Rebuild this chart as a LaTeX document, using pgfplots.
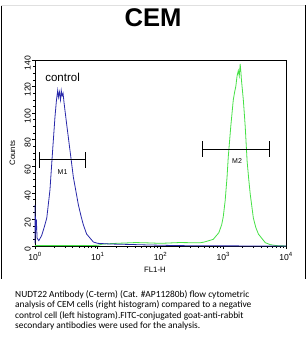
\documentclass[border=0pt]{standalone}
\usepackage{pgfplots}
\pgfplotsset{compat=1.18}
\usepackage{fontspec}
\setmainfont{Liberation Sans}
\newfontfamily\capfont{Carlito}
\definecolor{cblue}{RGB}{40,40,170}
\definecolor{cgreen}{RGB}{70,225,70}
\begin{document}
\begin{tikzpicture}[x=1pt,y=1pt]
\useasboundingbox (0,0) rectangle (306,340);
\fill[white] (0,0) rectangle (306,340);
\draw[black,line width=1pt] (1,61) -- (1,335);
\draw[black,line width=1pt] (305,61) -- (305,335);
\draw[black!12,line width=0.6pt] (1,335) -- (305,335);
\node[font=\bfseries\fontsize{25.6}{28}\selectfont] at (153,322.5) {CEM};
\begin{axis}[
  at={(35pt,94pt)}, anchor=south west,
  scale only axis, width=251pt, height=186pt,
  xmode=log, xmin=1, xmax=10000, ymin=0, ymax=140,
  xtick={1,10,100,1000,10000},
  xticklabels={10\textsuperscript{0},10\textsuperscript{1},10\textsuperscript{2},10\textsuperscript{3},10\textsuperscript{4}},
  ytick={0,20,40,60,80,100,120,140},
  minor y tick num=3,
  tick align=outside, tick pos=left,
  major tick length=3pt, minor tick length=2pt,
  axis line style={line width=0.9pt},
  every tick/.style={black,line width=0.6pt},
  ticklabel style={font=\fontsize{8.6}{9}\selectfont},
  /pgf/number format/assume math mode=true,
  yticklabel style={rotate=90,anchor=south,inner sep=1pt,xshift=-3pt},
  xticklabel style={inner sep=1pt,yshift=-2pt},
  clip=false,
]
\addplot[cgreen,line width=0.8pt] coordinates {
(1,0.3)(5,0.3)(10,0.5)(12,1.5)(20,2)(40,2.6)(68,2.3)(100,2)(200,2.6)(427,2.4)(500,3)(692,5)(850,10)(944,16)(1000,22)(1072,34)(1150,52)(1202,67)(1318,90)(1445,110)(1520,116)(1585,120)(1660,128)(1738,132)(1800,128)(1862,137)(1910,131)(1950,125)(2089,110)(2239,90)(2399,64)(2550,50)(2692,39)(3020,21)(3300,14)(3631,9)(4677,2.5)(5623,1)(7000,0.3)(10000,0)
};
\addplot[cblue,line width=0.8pt] coordinates {
(1.00,2)(1.00,31)(1.01,8)(1.02,22)(1.03,12)(1.05,20)(1.08,6)(1.15,4)(1.28,8)(1.40,14)(1.54,21)(1.73,42)(1.91,72)(2.08,97)(2.20,110)(2.30,117)(2.36,112)(2.45,116)(2.55,110)(2.62,117)(2.70,113)(2.80,115)(2.90,108)(3.19,92)(3.61,72)(4.08,52)(4.91,31)(5.20,26)(5.45,22)(5.89,16)(6.65,9)(8.51,3)(10,2)(15.7,1.5)(30,1.2)(60,0.8)(150,0.4)(300,0.2)(1000,0.1)(10000,0)
};
% markers
\addplot[black,line width=0.8pt] coordinates {(1.17,65)(6.27,65)};
\addplot[black,line width=0.8pt] coordinates {(1.17,59)(1.17,71)};
\addplot[black,line width=0.8pt] coordinates {(6.27,59)(6.27,71)};
\addplot[black,line width=0.8pt] coordinates {(464,73)(5370,73)};
\addplot[black,line width=0.8pt] coordinates {(464,67)(464,79)};
\addplot[black,line width=0.8pt] coordinates {(5370,67)(5370,79)};
\node[font=\fontsize{7}{8}\selectfont] at (axis cs:2.75,56) {M1};
\node[font=\fontsize{7}{8}\selectfont] at (axis cs:1660,64) {M2};
\node[font=\fontsize{11.5}{13}\selectfont,anchor=west,inner sep=0pt] at (axis cs:1.45,127) {control};
\node[font=\fontsize{7.8}{9}\selectfont] at (axis description cs:0.478,-0.13) {FL1-H};
\node[font=\fontsize{7.8}{9}\selectfont,rotate=90] at (axis description cs:-0.09,0.50) {Counts};
\end{axis}
\begin{scope}[font=\capfont\fontsize{9.4}{10}\selectfont]
\node[anchor=base west,inner sep=0pt] at (15,42) {NUDT22 Antibody (C-term) (Cat. \#AP11280b) flow cytometric};
\node[anchor=base west,inner sep=0pt] at (15,32) {analysis of CEM cells (right histogram) compared to a negative};
\node[anchor=base west,inner sep=0pt] at (15,21.5) {control cell (left histogram).FITC-conjugated goat-anti-rabbit};
\node[anchor=base west,inner sep=0pt] at (15,12) {secondary antibodies were used for the analysis.};
\end{scope}
\end{tikzpicture}
\end{document}
